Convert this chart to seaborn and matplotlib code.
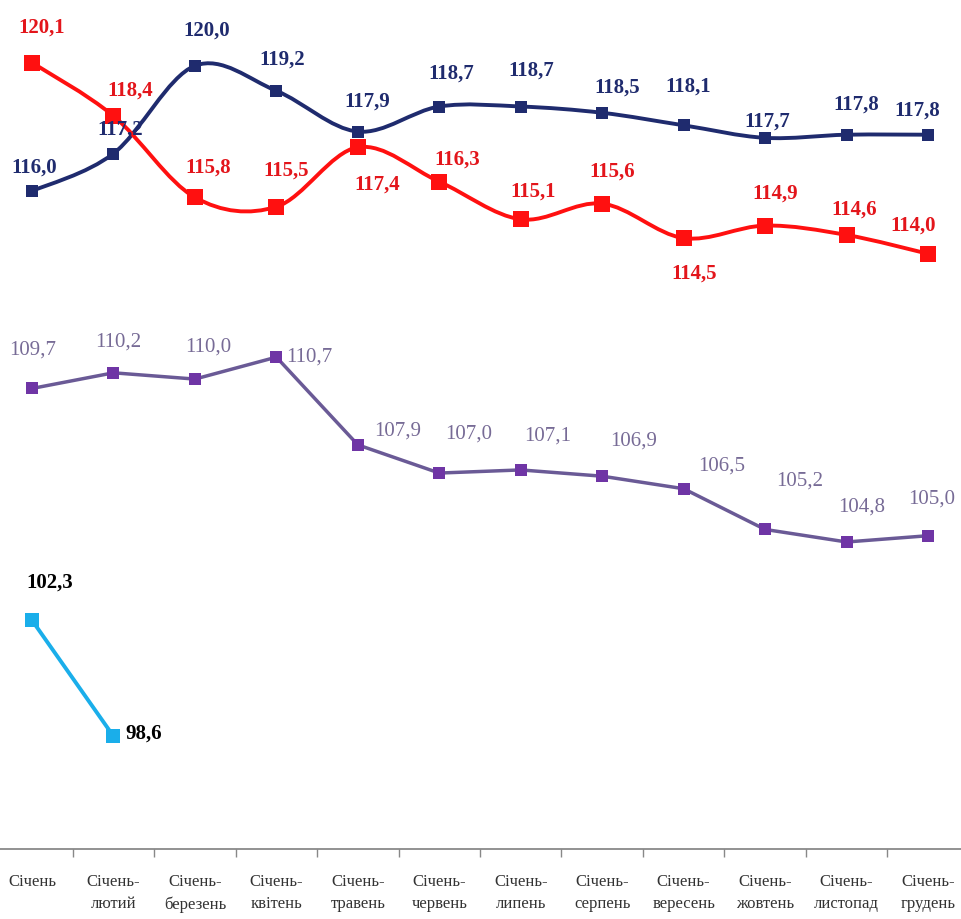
import numpy as np
import pandas as pd
import seaborn as sns
import matplotlib.pyplot as plt
from matplotlib.path import Path
from matplotlib.patches import PathPatch

# categories (x axis)
months = ["Січень", "Січень-\nлютий", "Січень-\nберезень", "Січень-\nквітень",
          "Січень-\nтравень", "Січень-\nчервень", "Січень-\nлипень",
          "Січень-\nсерпень", "Січень-\nвересень", "Січень-\nжовтень",
          "Січень-\nлистопад", "Січень-\nгрудень"]

# series values
blue_vals = [116.0, 117.2, 120.0, 119.2, 117.9, 118.7, 118.7, 118.5, 118.1, 117.7, 117.8, 117.8]
red_vals = [120.1, 118.4, 115.8, 115.5, 117.4, 116.3, 115.1, 115.6, 114.5, 114.9, 114.6, 114.0]
purple_vals = [109.7, 110.2, 110.0, 110.7, 107.9, 107.0, 107.1, 106.9, 106.5, 105.2, 104.8, 105.0]
cyan_vals = [102.3, 98.6]

# label offsets in pixels (dx, dy)
blue_off = [(2, 24), (7, 24), (12, 35), (6, 31), (9, 30), (12, 33), (10, 36),
            (15, 25), (5, 39), (2, 16), (10, 30), (-11, 24)]
red_off = [(10, 35), (17, 25), (13, 30), (10, 36), (19, -37), (18, 22), (12, 28),
           (10, 32), (10, -35), (10, 32), (8, 25), (-15, 28)]
purple_off = [(1, 38), (5, 31), (13, 32), (33, 0), (40, 14), (29, 39), (27, 34),
              (31, 35), (38, 23), (35, 48), (15, 35), (4, 37)]
cyan_off = [(18, 38), (30, 3)]

c_blue = "#1F2B6E"
c_red = "#FF1010"
c_red_txt = "#E3151B"
c_purple_line = "#6A5A96"
c_purple_mk = "#6F35A5"
c_purple_txt = "#776B96"
c_cyan = "#1AAEEA"

x = np.arange(len(months))
df = pd.concat([
    pd.DataFrame({"x": x, "v": blue_vals, "s": "blue"}),
    pd.DataFrame({"x": x, "v": red_vals, "s": "red"}),
    pd.DataFrame({"x": x, "v": purple_vals, "s": "purple"}),
    pd.DataFrame({"x": x[:len(cyan_vals)], "v": cyan_vals, "s": "cyan"}),
], ignore_index=True)

sns.set_style("white")
plt.rcParams["font.family"] = ["Liberation Serif", "DejaVu Serif"]

fig = plt.figure(figsize=(9.62, 9.19), dpi=100)
ax = fig.add_axes([0, 70 / 919, 1, 849 / 919])


def smooth_path(xs, ys):
    # Excel-like smoothed line: cubic bezier segments through the points
    p = np.column_stack([xs, ys]).astype(float)
    verts = [p[0]]
    codes = [Path.MOVETO]
    n = len(p)
    for i in range(n - 1):
        p0 = p[i - 1] if i > 0 else p[i]
        p3 = p[i + 2] if i + 2 < n else p[i + 1]
        c1 = p[i] + (p[i + 1] - p0) / 6
        c2 = p[i + 1] - (p3 - p[i]) / 6
        verts += [c1, c2, p[i + 1]]
        codes += [Path.CURVE4] * 3
    return Path(verts, codes)


# smoothed lines for blue and red
ax.add_patch(PathPatch(smooth_path(x, blue_vals), fill=False, ec=c_blue, lw=2.8, zorder=2))
ax.add_patch(PathPatch(smooth_path(x, red_vals), fill=False, ec=c_red, lw=2.8, zorder=2))

# straight lines for purple and cyan
sns.lineplot(data=df[df.s == "purple"], x="x", y="v", color=c_purple_line, lw=2.5, ax=ax, zorder=2)
sns.lineplot(data=df[df.s == "cyan"], x="x", y="v", color=c_cyan, lw=2.8, ax=ax, zorder=2)

# markers
sns.scatterplot(data=df[df.s == "blue"], x="x", y="v", marker="s", s=85, color=c_blue, linewidth=0, ax=ax, zorder=3)
sns.scatterplot(data=df[df.s == "red"], x="x", y="v", marker="s", s=135, color=c_red, linewidth=0, ax=ax, zorder=3)
sns.scatterplot(data=df[df.s == "purple"], x="x", y="v", marker="s", s=80, color=c_purple_mk, linewidth=0, ax=ax, zorder=3)
sns.scatterplot(data=df[df.s == "cyan"], x="x", y="v", marker="s", s=105, color=c_cyan, linewidth=0, ax=ax, zorder=3)


def fmt(v):
    return f"{v:.1f}".replace(".", ",")


def labels(vals, offs, color, weight):
    for i, (v, (dx, dy)) in enumerate(zip(vals, offs)):
        ax.annotate(fmt(v), (i, v), xytext=(dx, dy), textcoords="offset pixels",
                    ha="center", va="center", fontsize=15, fontweight=weight,
                    color=color, zorder=4)


labels(blue_vals, blue_off, c_blue, "bold")
labels(red_vals, red_off, c_red_txt, "bold")
labels(purple_vals, purple_off, c_purple_txt, "normal")
labels(cyan_vals, cyan_off, "black", "bold")

ax.set_xlim(-0.393, 11.417)
ax.set_ylim(95.0, 122.1)
ax.set_xticks(x[:-1] + 0.5)
ax.set_xticklabels([])
ax.set_xticks(x, minor=True)
ax.set_xticklabels(months, minor=True, fontsize=12, color="#333333", linespacing=1.5)
ax.tick_params(axis="x", which="major", length=6, width=1, color="#888888", direction="out", bottom=True)
ax.tick_params(axis="x", which="minor", length=0, pad=18)
ax.set_yticks([])
ax.set_xlabel("")
ax.set_ylabel("")
for side in ["left", "right", "top"]:
    ax.spines[side].set_visible(False)
ax.spines["bottom"].set_color("#7F7F7F")
ax.spines["bottom"].set_linewidth(1.2)

fig.savefig("out.png", dpi=100)
